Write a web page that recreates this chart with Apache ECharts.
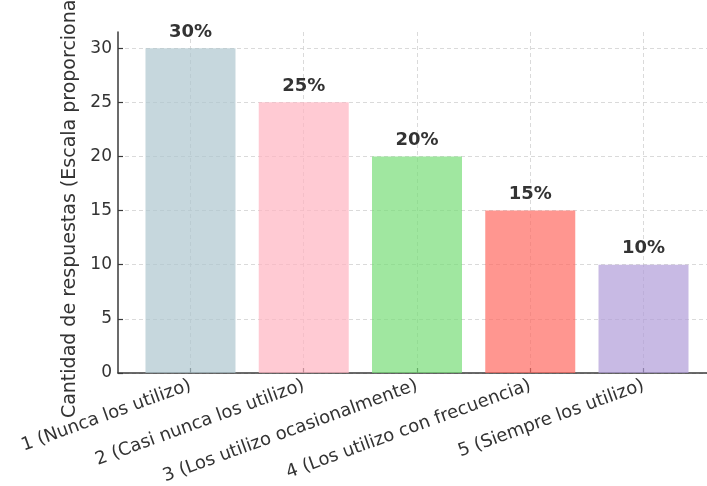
<!DOCTYPE html>
<html>
<head>
<meta charset="utf-8">
<script src="https://cdn.jsdelivr.net/npm/echarts@6/dist/echarts.min.js"></script>
<style>
html,body{margin:0;padding:0;background:#fff;}
#c{width:707px;height:486px;}
</style>
</head>
<body>
<div id="c"></div>
<script>
const categories = [
  "1 (Nunca los utilizo)",
  "2 (Casi nunca los utilizo)",
  "3 (Los utilizo ocasionalmente)",
  "4 (Los utilizo con frecuencia)",
  "5 (Siempre los utilizo)"
];
const values = [30, 25, 20, 15, 10];
const barColors = ["rgba(174,198,207,0.7)", "rgba(255,179,193,0.7)", "rgba(119,221,119,0.7)", "rgba(255,105,97,0.7)", "rgba(177,156,217,0.7)"];
const yTicks = [0, 5, 10, 15, 20, 25, 30];
const yAxisName = "Cantidad de respuestas (Escala proporcional)";

const font = "DejaVu Sans";
const chart = echarts.init(document.getElementById('c'), null, {renderer: 'canvas'});
const xPositions = categories.map((c, i) => i);

chart.setOption({
  animation: false,
  backgroundColor: '#fff',
  grid: {left: 118, right: -9, top: 32, bottom: 113, containLabel: false, outerBoundsMode: 'none'},
  xAxis: {
    type: 'value',
    min: -0.64,
    max: 4.64,
    axisLine: {show: true, onZero: false, lineStyle: {color: '#3a3a3a', width: 1.5}},
    axisTick: {show: true, inside: true, length: 5, customValues: xPositions, lineStyle: {color: '#3a3a3a', width: 1.2}},
    axisLabel: {
      customValues: xPositions,
      rotate: 20,
      margin: 12,
      color: '#333',
      fontFamily: font,
      fontSize: 18,
      formatter: v => categories[Math.round(v)] || ''
    },
    splitLine: {show: true, lineStyle: {color: '#d0d0d0', type: [4, 3], width: 0.8}}
  },
  yAxis: {
    type: 'value',
    min: 0,
    max: 31.5,
    name: yAxisName,
    nameLocation: 'middle',
    nameGap: 33,
    nameTextStyle: {color: '#333', fontFamily: font, fontSize: 19},
    axisLine: {show: true, onZero: false, lineStyle: {color: '#3a3a3a', width: 1.5}},
    axisTick: {show: true, inside: true, length: 5, customValues: yTicks, lineStyle: {color: '#3a3a3a', width: 1.2}},
    axisLabel: {customValues: yTicks, color: '#333', fontFamily: font, fontSize: 17, margin: 6},
    splitLine: {show: true, lineStyle: {color: '#d0d0d0', type: [4, 3], width: 0.8}}
  },
  series: [{
    type: 'bar',
    barWidth: 90,
    data: values.map((v, i) => ({value: [xPositions[i], v], itemStyle: {color: barColors[i]}})),
    label: {
      show: true,
      position: 'top',
      distance: 7,
      color: '#333',
      fontFamily: font,
      fontWeight: 'bold',
      fontSize: 18,
      formatter: p => p.value[1] + '%'
    }
  }]
});
</script>
</body>
</html>
